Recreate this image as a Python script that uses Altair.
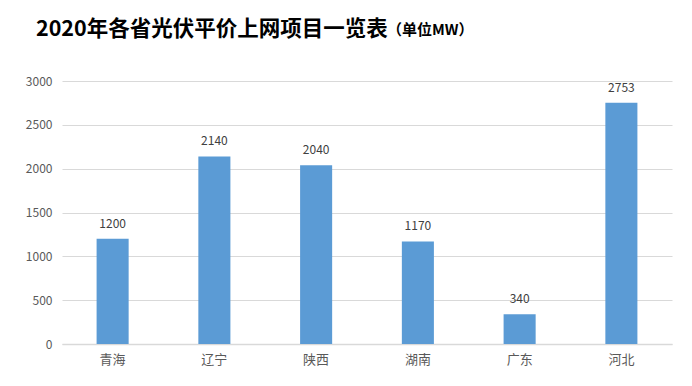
import altair as alt
import pandas as pd

provinces = ["青海", "辽宁", "陕西", "湖南", "广东", "河北"]
values = [1200, 2140, 2040, 1170, 340, 2753]
y_ticks = [0, 500, 1000, 1500, 2000, 2500, 3000]

title_main = "2020年各省光伏平价上网项目一览表"
title_unit = "（单位MW）"

FONT = "Noto Sans CJK SC"

df = pd.DataFrame({"province": provinces, "value": values})

x = alt.X("province:N", sort=provinces, title=None,
          scale=alt.Scale(paddingInner=0.685, paddingOuter=0.34),
          axis=alt.Axis(labelAngle=0, labelFontSize=13, labelColor="#595959",
                        labelFont=FONT, labelPadding=9, ticks=False,
                        domainColor="#d9d9d9", domainWidth=1.5))
y = alt.Y("value:Q", title=None,
          scale=alt.Scale(domain=[0, 3000], nice=False),
          axis=alt.Axis(values=y_ticks, format="d", labelFontSize=12, labelColor="#595959",
                        labelFont=FONT, labelPadding=10, ticks=False, domain=False,
                        gridColor="#d9d9d9", gridWidth=1))

bars = alt.Chart(df).mark_bar(color="#5b9bd5").encode(x=x, y=y)

labels = alt.Chart(df).mark_text(dy=-15, fontSize=12, color="#404040", font=FONT).encode(
    x=alt.X("province:N", sort=provinces), y="value:Q", text="value:Q")

tdf = pd.DataFrame({"t": [title_main]})
t1 = alt.Chart(tdf).mark_text(align="left", baseline="alphabetic", fontSize=21.5,
                              fontWeight="bold", font=FONT, color="#000000").encode(
    x=alt.value(-26), y=alt.value(-45), text="t:N")

udf = pd.DataFrame({"t": [title_unit]})
t2 = alt.Chart(udf).mark_text(align="left", baseline="alphabetic", fontSize=15,
                              fontWeight="bold", font=FONT, color="#000000").encode(
    x=alt.value(325), y=alt.value(-46), text="t:N")

chart = alt.layer(bars, labels, t1, t2).properties(
    width=610, height=263,
    autosize=alt.AutoSizeParams(type="none"),
    padding={"left": 54, "top": 73, "right": 12, "bottom": 34},
    background="white",
).configure_view(stroke=None)

chart.save("out.html", embed_options={"renderer": "svg", "actions": False})
